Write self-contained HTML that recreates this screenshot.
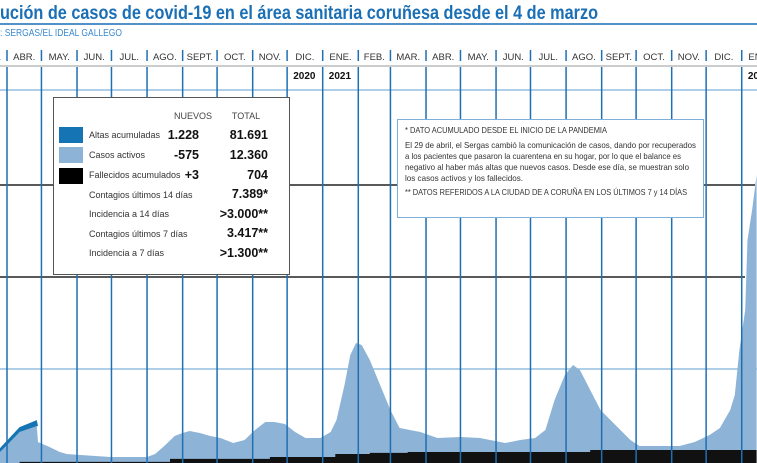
<!DOCTYPE html>
<html><head><meta charset="utf-8"><style>
html,body{margin:0;padding:0;background:#fff;}
svg{display:block;}
text{font-family:"Liberation Sans",sans-serif;}
</style></head><body>
<svg id="chart" width="757" height="463" viewBox="0 0 757 463" xmlns="http://www.w3.org/2000/svg">
<rect width="757" height="463" fill="#fff"/>
<text x="0" y="19" font-size="19" font-weight="bold" fill="#1a6fb5" textLength="598" lengthAdjust="spacingAndGlyphs">ución de casos de covid-19 en el área sanitaria coruñesa desde el 4 de marzo</text>
<line x1="0" y1="24" x2="757" y2="24" stroke="#1a6fb5" stroke-width="1.5"/>
<text x="0" y="36" font-size="10" fill="#3a8ad0" textLength="122" lengthAdjust="spacingAndGlyphs">: SERGAS/EL IDEAL GALLEGO</text>
<line x1="0" y1="66" x2="757" y2="66" stroke="#999" stroke-width="1"/>
<line x1="0" y1="90" x2="757" y2="90" stroke="#7fb0db" stroke-width="1.2"/>
<g id="hgrid"></g>
<g id="areas"></g>
<g id="vgrid"></g>
<g id="labels"></g>

<g>
<rect x="53.5" y="97.5" width="236" height="177" fill="#fff" stroke="#555" stroke-width="1"/>
<text x="193" y="119" font-size="9" fill="#444" text-anchor="middle">NUEVOS</text>
<text x="246" y="119" font-size="9" fill="#444" text-anchor="middle">TOTAL</text>
<rect x="59" y="127" width="24" height="16" fill="#1474b4"/>
<rect x="59" y="147" width="24" height="16" fill="#8db3d6"/>
<rect x="59" y="168" width="24" height="16" fill="#000"/>
<g font-size="9" fill="#333">
<text x="89" y="138">Altas acumuladas</text>
<text x="89" y="158">Casos activos</text>
<text x="89" y="178">Fallecidos acumulados</text>
<text x="89" y="198">Contagios últimos 14 días</text>
<text x="89" y="217">Incidencia a 14 días</text>
<text x="89" y="237">Contagios últimos 7 días</text>
<text x="89" y="256">Incidencia a 7 días</text>
</g>
<g font-size="12.5" font-weight="bold" fill="#111" text-anchor="end">
<text x="199" y="139">1.228</text>
<text x="268" y="139">81.691</text>
<text x="199" y="159">-575</text>
<text x="268" y="159">12.360</text>
<text x="199" y="179">+3</text>
<text x="268" y="179">704</text>
<text x="268" y="198">7.389*</text>
<text x="268" y="218">&gt;3.000**</text>
<text x="268" y="237">3.417**</text>
<text x="268" y="257">&gt;1.300**</text>
</g>
</g>

<g>
<rect x="397.5" y="119.5" width="306" height="98" fill="#fff" stroke="#7fb0db" stroke-width="1"/>
<g font-size="8.5" fill="#333">
<text x="405" y="133" textLength="202" lengthAdjust="spacingAndGlyphs">* DATO ACUMULADO DESDE EL INICIO DE LA PANDEMIA</text>
<text x="405" y="148" textLength="291" lengthAdjust="spacingAndGlyphs">El 29 de abril, el Sergas cambió la comunicación de casos, dando por recuperados</text>
<text x="405" y="159" textLength="276" lengthAdjust="spacingAndGlyphs">a los pacientes que pasaron la cuarentena en su hogar, por lo que el balance es</text>
<text x="405" y="170" textLength="284" lengthAdjust="spacingAndGlyphs">negativo al haber más altas que nuevos casos. Desde ese día, se muestran solo</text>
<text x="405" y="181" textLength="118" lengthAdjust="spacingAndGlyphs">los casos activos y los fallecidos.</text>
<text x="405" y="195" textLength="282" lengthAdjust="spacingAndGlyphs">** DATOS REFERIDOS A LA CIUDAD DE A CORUÑA EN LOS ÚLTIMOS 7 y 14 DÍAS</text>
</g>
</g>
</svg>
<script>
// days since 1 Mar 2020
const activeDays = [3,25,34,42,57,58,68,77,83,95,121,153,160,169,177,184,190,199,208,217,228,238,247,256,264,273,282,291,304,313,318,325,330,335,340,347,356,365,373,391,406,426,443,465,478,491,500,508,517,524,530,539,548,561,574,582,600,617,630,643,652,661,665,669,674,676,680,684];
const activeValues = [200,590,1233,1662,1980,1126,858,590,482,429,322,322,482,965,1447,1608,1715,1608,1447,1340,1072,1233,1769,2198,2198,2090,1662,1340,1340,1662,2305,4181,5789,6432,6325,5521,4181,2841,1876,1662,1340,1394,1340,1072,1233,1340,1769,3377,4717,5253,4985,3913,2841,2037,1233,911,911,911,1126,1501,1876,2841,3645,6057,8201,11953,13561,15437];
const altasDays = [3,25,42,57,58];
const altasValues = [120,214,260,320,0];
const deathDays = [3,42,173,260,317,347,380,539,684];
const deathValues = [0,60,220,320,480,540,590,697,704];
const monthLabels = ["MAR.","ABR.","MAY.","JUN.","JUL.","AGO.","SEPT.","OCT.","NOV.","DIC.","ENE.","FEB.","MAR.","ABR.","MAY.","JUN.","JUL.","AGO.","SEPT.","OCT.","NOV.","DIC.","ENE."];
const monthStartDays = [0,31,61,92,122,153,184,214,245,275,306,337,365,396,426,457,487,518,549,579,610,640,671];
const yearLabels = ["2020","2021","2022"];
const yearMonthIndex = [9,10,22];

const NS = "http://www.w3.org/2000/svg";
const xs_ = d => 7 + (d - 31) * 1.148;
const ys_ = v => 463 - v / 53.6;
function mk(tag, attrs, parent){ const e=document.createElementNS(NS,tag); for(const k in attrs) e.setAttribute(k,attrs[k]); parent.appendChild(e); return e; }

const hg = document.getElementById('hgrid');
let gl;
gl = mk('line',{x1:0,y1:185,x2:755,y2:185,stroke:'#222','stroke-width':1.5},hg);


gl = mk('line',{x1:0,y1:277,x2:745,y2:277,stroke:'#222','stroke-width':1.5},hg);


gl = mk('line',{x1:0,y1:369,x2:757,y2:369,stroke:'#7fb0db','stroke-width':1.2},hg);



const ag = document.getElementById('areas');
let dAct = 'M' + xs_(activeDays[0]) + ',463';
activeDays.forEach((dd,i)=>{ dAct += ' L' + xs_(dd).toFixed(1) + ',' + ys_(activeValues[i]).toFixed(1); });
dAct += ' L' + xs_(activeDays[activeDays.length-1]).toFixed(1) + ',463 Z';
const pa = mk('path',{d:dAct,fill:'#8db3d6'},ag);



const actAt = dd => { for(let i=0;i<activeDays.length-1;i++){ if(dd>=activeDays[i]&&dd<=activeDays[i+1]){ const t=(dd-activeDays[i])/((activeDays[i+1]-activeDays[i])||1); return activeValues[i]+t*(activeValues[i+1]-activeValues[i]); } } return 0; };
let altTop = '', altBot = '';
altasDays.forEach((dd,i)=>{ const base = actAt(dd===58?57:dd); altTop += (i?' L':'M') + xs_(dd).toFixed(1)+','+ys_(base+altasValues[i]).toFixed(1); });
for(let i=altasDays.length-1;i>=0;i--){ const dd=altasDays[i]; altBot += ' L'+xs_(dd).toFixed(1)+','+ys_(actAt(dd===58?57:dd)).toFixed(1); }
const pb = mk('path',{d:altTop+altBot+' Z',fill:'#1474b4'},ag);



let dDeath = 'M' + xs_(deathDays[0]) + ',463';
deathDays.forEach((dd,i)=>{ if(i>0) dDeath += ' L' + xs_(dd).toFixed(1) + ',' + ys_(deathValues[i-1]).toFixed(1); dDeath += ' L' + xs_(dd).toFixed(1) + ',' + ys_(deathValues[i]).toFixed(1); });
dDeath += ' L' + xs_(deathDays[deathDays.length-1]).toFixed(1) + ',463 Z';
const pc = mk('path',{d:dDeath,fill:'#111'},ag);



const vg = document.getElementById('vgrid');
const lg = document.getElementById('labels');
monthStartDays.forEach((md,i)=>{
  const xp = xs_(md);
  if(i>0 && xp<757){
    const t = mk('line',{x1:xp,y1:50,x2:xp,y2:61,stroke:'#1f6fb3','stroke-width':1.5},vg);
    
    
    const v = mk('line',{x1:xp,y1:67,x2:xp,y2:463,stroke:'#1f6fb3','stroke-width':1.5},vg);
    
    
  }
  const next = i+1<monthStartDays.length ? monthStartDays[i+1] : md+31;
  const cx = (xs_(md)+xs_(next))/2;
  const tx = mk('text',{x:cx,y:60,'font-size':9.5,fill:'#333','text-anchor':'middle'},lg);
  tx.textContent = monthLabels[i];
  
  
});
yearLabels.forEach((yl,i)=>{
  const mi = yearMonthIndex[i];
  const cx = (xs_(monthStartDays[mi])+xs_(monthStartDays[mi]+30))/2;
  const tx = mk('text',{x:cx,y:79,'font-size':10,'font-weight':'bold',fill:'#111','text-anchor':'middle'},lg);
  tx.textContent = yl;
  
  
});
</script>
</body></html>
